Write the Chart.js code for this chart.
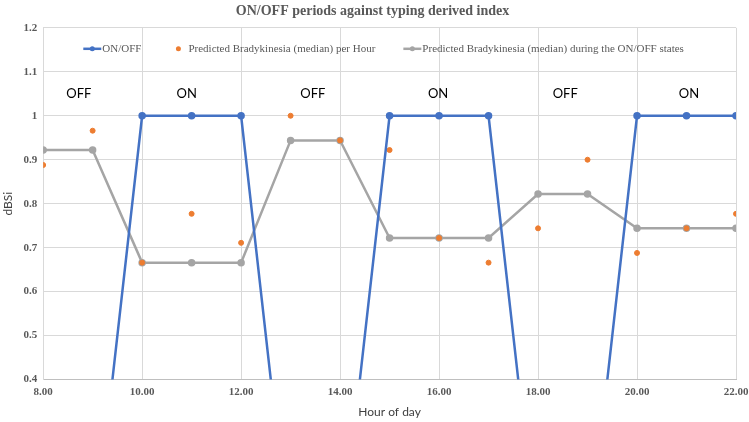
<!DOCTYPE html>
<html>
<head>
<meta charset="utf-8">
<script src="https://cdn.jsdelivr.net/npm/chart.js@4.4.1/dist/chart.umd.min.js"></script>
<style>
  html, body { margin: 0; padding: 0; background: #fff; }
  #wrap { width: 749px; height: 422px; }
</style>
</head>
<body>
<div id="wrap"><canvas id="chart" width="749" height="422"></canvas></div>
<script>
// hours of the day
const hours = [8, 9, 10, 11, 12, 13, 14, 15, 16, 17, 18, 19, 20, 21, 22];
// ON = 1, OFF = 0
const onOff = [0, 0, 1, 1, 1, 0, 0, 1, 1, 1, 0, 0, 1, 1, 1];
// predicted bradykinesia per hour
const perHour = [0.888, 0.966, 0.666, 0.777, 0.711, 1.0, 0.944, 0.922, 0.722, 0.666, 0.744, 0.9, 0.688, 0.744, 0.777];
// predicted bradykinesia during the ON/OFF states
const perState = [0.922, 0.922, 0.666, 0.666, 0.666, 0.944, 0.944, 0.722, 0.722, 0.722, 0.822, 0.822, 0.744, 0.744, 0.744];
// state text labels and where they sit (hour, dBSi)
const stateNames = ["OFF", "ON", "OFF", "ON", "OFF", "ON"];
const stateHours = [8.72, 10.9, 13.45, 15.98, 18.55, 21.05];
const stateLevel = 1.05;

const blue = "#4472C4", orange = "#ED7D31", grey = "#A5A5A5";
const serif = "'Liberation Serif', 'Times New Roman', serif";
const sans = "Lato, 'Open Sans', sans-serif";

function pts(ys) {
  return hours.map((h, i) => ({ x: h, y: ys[i] }));
}

// OFF / ON words over the periods
const stateText = {
  id: "stateText",
  afterDatasetsDraw(chart) {
    const { ctx, scales } = chart;
    ctx.save();
    ctx.font = "13px " + sans;
    ctx.fillStyle = "#000";
    ctx.textAlign = "center";
    ctx.textBaseline = "middle";
    stateNames.forEach((t, i) => {
      ctx.fillText(t, scales.x.getPixelForValue(stateHours[i]), scales.y.getPixelForValue(stateLevel));
    });
    ctx.restore();
  }
};

// excel-like legend sitting inside the plot, one row
const insideLegend = {
  id: "insideLegend",
  afterDatasetsDraw(chart) {
    const { ctx, chartArea } = chart;
    const sets = chart.data.datasets;
    ctx.save();
    ctx.font = "11px " + serif;
    const iconW = 18, gap = 1, spacing = 28;
    let total = 0;
    sets.forEach((d, i) => {
      total += iconW + gap + ctx.measureText(d.label).width;
      if (i < sets.length - 1) total += spacing;
    });
    let x = (chartArea.left + chartArea.right) / 2 - 6 - total / 2;
    const y = chartArea.top + 21;
    sets.forEach(d => {
      const c = d.borderColor;
      if (d.showLine !== false) {
        ctx.strokeStyle = c; ctx.lineWidth = 2.5;
        ctx.beginPath(); ctx.moveTo(x, y); ctx.lineTo(x + iconW, y); ctx.stroke();
      }
      ctx.fillStyle = c;
      ctx.beginPath(); ctx.arc(x + iconW / 2, y, 2.5, 0, Math.PI * 2); ctx.fill();
      x += iconW + gap;
      ctx.fillStyle = "#595959";
      ctx.textAlign = "left"; ctx.textBaseline = "middle";
      ctx.fillText(d.label, x, y);
      x += ctx.measureText(d.label).width + spacing;
    });
    ctx.restore();
  }
};

new Chart(document.getElementById("chart"), {
  type: "line",
  data: {
    datasets: [
      {
        label: "ON/OFF",
        data: pts(onOff),
        borderColor: blue, backgroundColor: blue,
        borderWidth: 2.5, pointRadius: 2.5, pointHoverRadius: 2.5,
        tension: 0
      },
      {
        label: "Predicted Bradykinesia (median) per Hour",
        data: pts(perHour),
        borderColor: orange, backgroundColor: orange,
        showLine: false, pointRadius: 2.5, pointHoverRadius: 2.5
      },
      {
        label: "Predicted Bradykinesia (median) during the ON/OFF states",
        data: pts(perState),
        borderColor: grey, backgroundColor: grey,
        borderWidth: 2.5, pointRadius: 2.5, pointHoverRadius: 2.5,
        tension: 0
      }
    ]
  },
  options: {
    responsive: false,
    animation: false,
    clip: true,
    layout: { padding: { left: 1, right: 5, top: 0, bottom: 3 } },
    plugins: {
      title: {
        display: true,
        text: "ON/OFF periods against typing derived index",
        color: "#595959",
        font: { family: serif, size: 14, weight: "bold" },
        padding: { top: 3, bottom: 8 }
      },
      legend: { display: false },
      tooltip: { enabled: false }
    },
    scales: {
      x: {
        type: "linear",
        min: 8, max: 22,
        afterFit(s) { s.paddingRight = 13; },
        ticks: {
          stepSize: 2,
          color: "#595959",
          font: { family: serif, size: 11, weight: "bold", lineHeight: 1 },
          callback: v => v.toFixed(2),
          padding: 7
        },
        grid: { color: "#d9d9d9", drawTicks: false },
        border: { color: "#bfbfbf" },
        title: {
          display: true, text: "Hour of day", color: "#404040",
          font: { family: sans, size: 12 }, padding: { top: 0, bottom: 0 }
        }
      },
      y: {
        min: 0.4, max: 1.2,
        ticks: {
          stepSize: 0.1,
          color: "#595959",
          font: { family: serif, size: 11, weight: "bold" },
          callback: v => String(+v.toFixed(1)),
          padding: 6
        },
        grid: { color: "#d9d9d9", drawTicks: false },
        border: { color: "#d9d9d9" },
        title: {
          display: true, text: "dBSi", color: "#404040",
          font: { family: sans, size: 12 }, padding: { top: 0, bottom: 2 }
        }
      }
    }
  },
  plugins: [stateText, insideLegend]
});
</script>
</body>
</html>
